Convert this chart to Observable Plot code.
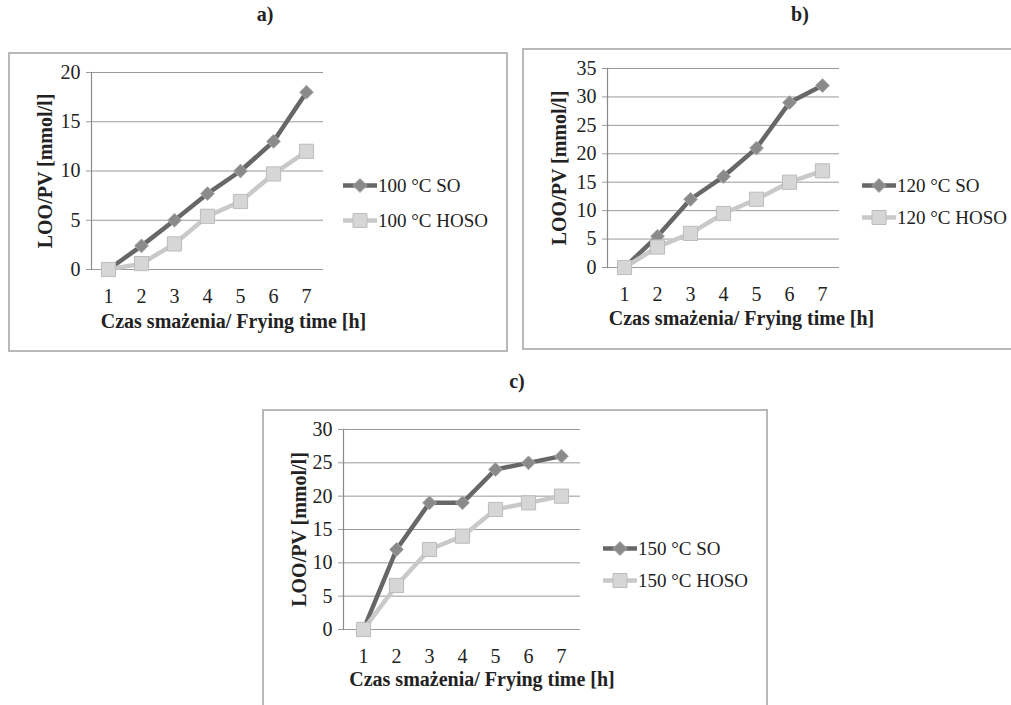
<!DOCTYPE html>
<html>
<head>
<meta charset="utf-8">
<script src="https://cdn.jsdelivr.net/npm/d3@7"></script>
<script src="https://cdn.jsdelivr.net/npm/@observablehq/plot@0.6"></script>
<style>
  html, body { margin: 0; padding: 0; background: #fff; }
  #page { position: relative; width: 1011px; height: 705px; overflow: hidden; font-family: "Liberation Serif", "Times New Roman", serif; color: #222; }
  .ptitle { position: absolute; font-weight: bold; font-size: 20px; transform: translateX(-50%); }
  .box { position: absolute; border: 2px solid #b8b8b8; box-sizing: border-box; background: #fff; }
  .box svg { position: absolute; left: 0; top: 0; overflow: visible; }
  .legend { position: absolute; font-size: 19px; line-height: 1; }
  .legend .row { position: absolute; left: 0; display: flex; align-items: center; white-space: nowrap; transform: translateY(-50%); }
  .legend svg { position: static; margin-right: 1px; }
</style>
</head>
<body>
<div id="page"></div>
<script>
// ---- data ----
const hours = [1, 2, 3, 4, 5, 6, 7];
const so100   = [0, 2.4, 5, 7.7, 10, 13, 18];
const hoso100 = [0, 0.6, 2.6, 5.4, 6.9, 9.7, 12];
const so120   = [0, 5.5, 12, 16, 21, 29, 32];
const hoso120 = [0, 3.6, 6, 9.5, 12, 15, 17];
const so150   = [0, 12, 19, 19, 24, 25, 26];
const hoso150 = [0, 6.6, 12, 14, 18, 19, 20];
const ticks100 = [0, 5, 10, 15, 20];
const ticks120 = [0, 5, 10, 15, 20, 25, 30, 35];
const ticks150 = [0, 5, 10, 15, 20, 25, 30];
const seriesNames100 = ["100 °C SO", "100 °C HOSO"];
const seriesNames120 = ["120 °C SO", "120 °C HOSO"];
const seriesNames150 = ["150 °C SO", "150 °C HOSO"];
const panelLabels = ["a)", "b)", "c)"];
const xTitle = "Czas smażenia/ Frying time [h]";
const yTitle = "LOO/PV [mmol/l]";

const SO_LINE = "#676767", SO_FILL = "#8a8a8a", SO_EDGE = "#a8a8a8";
const HO_LINE = "#c9c9c9", HO_FILL = "#d6d6d6", HO_EDGE = "#bcbcbc";
const GRID = "#9a9a9a";

const page = document.getElementById("page");

function addTitle(text, cx, top) {
  const d = document.createElement("div");
  d.className = "ptitle";
  d.style.left = cx + "px";
  d.style.top = top + "px";
  d.textContent = text;
  page.appendChild(d);
}

function swatch(kind) {
  const ns = "http://www.w3.org/2000/svg";
  const s = document.createElementNS(ns, "svg");
  s.setAttribute("width", 34); s.setAttribute("height", 18);
  const l = document.createElementNS(ns, "line");
  l.setAttribute("x1", 0); l.setAttribute("x2", 34); l.setAttribute("y1", 9); l.setAttribute("y2", 9);
  l.setAttribute("stroke", kind === "so" ? SO_LINE : HO_LINE);
  l.setAttribute("stroke-width", 4.5);
  s.appendChild(l);
  const p = document.createElementNS(ns, "path");
  if (kind === "so") {
    p.setAttribute("d", "M17,2L24,9L17,16L10,9Z");
    p.setAttribute("fill", SO_FILL); p.setAttribute("stroke", SO_EDGE);
  } else {
    p.setAttribute("d", "M10,2H24V16H10Z");
    p.setAttribute("fill", HO_FILL); p.setAttribute("stroke", HO_EDGE);
  }
  s.appendChild(p);
  return s;
}

function panel(opts) {
  const box = document.createElement("div");
  box.className = "box";
  box.style.left = opts.left + "px";
  box.style.top = opts.top + "px";
  box.style.width = opts.w + "px";
  box.style.height = opts.h + "px";
  page.appendChild(box);

  const W = 340, H = 300;
  const so = hours.map((h, i) => ({h, v: opts.so[i]}));
  const ho = hours.map((h, i) => ({h, v: opts.ho[i]}));
  const chart = Plot.plot({
    width: W, height: H,
    marginLeft: opts.x0, marginRight: W - opts.x1,
    marginTop: opts.yTop, marginBottom: H - opts.yBot,
    style: {fontFamily: "'Liberation Serif', 'Times New Roman', serif", fontSize: "20px", color: "#222", background: "transparent", overflow: "visible"},
    x: {type: "point", domain: hours, padding: 0.5},
    y: {domain: [0, opts.ticks[opts.ticks.length - 1]]},
    marks: [
      Plot.gridY(opts.ticks, {stroke: GRID, strokeOpacity: 1, strokeWidth: 1}),
      Plot.axisY(opts.ticks, {tickSize: 5, tickPadding: 6, stroke: GRID, label: null, fontSize: 20}),
      Plot.axisX(hours, {tickSize: 0, tickPadding: 19, label: null, fontSize: 20}),
      Plot.frame({anchor: "left", stroke: "#8a8a8a", strokeWidth: 1.2}),
      Plot.line(so, {x: "h", y: "v", stroke: SO_LINE, strokeWidth: 4.5}),
      Plot.dot(so, {x: "h", y: "v", symbol: "diamond2", r: 6.2, fill: SO_FILL, stroke: SO_EDGE, strokeWidth: 1}),
      Plot.line(ho, {x: "h", y: "v", stroke: HO_LINE, strokeWidth: 4.5}),
      Plot.dot(ho, {x: "h", y: "v", symbol: "square", r: 8, fill: HO_FILL, stroke: HO_EDGE, strokeWidth: 1}),
      Plot.text([xTitle], {frameAnchor: "bottom", dx: opts.xtDx, dy: opts.xtDy, fontWeight: "bold", fontSize: 20, fill: "#222"}),
      Plot.text([yTitle], {frameAnchor: "left", textAnchor: "middle", rotate: -90, dx: 35 - opts.x0, fontWeight: "bold", fontSize: 20, fill: "#222"})
    ]
  });
  box.appendChild(chart);

  const lg = document.createElement("div");
  lg.className = "legend";
  lg.style.left = opts.lgX + "px";
  lg.style.top = "0px";
  [["so", opts.names[0], opts.lgY[0]], ["ho", opts.names[1], opts.lgY[1]]].forEach(([k, t, y]) => {
    const r = document.createElement("div");
    r.className = "row";
    r.style.top = y + "px";
    r.appendChild(swatch(k));
    const sp = document.createElement("span");
    sp.textContent = t;
    r.appendChild(sp);
    lg.appendChild(r);
  });
  box.appendChild(lg);
}

addTitle(panelLabels[0], 265, 3);
addTitle(panelLabels[1], 800, 3);
addTitle(panelLabels[2], 517, 370);

panel({left: 8, top: 52, w: 500, h: 300, so: so100, ho: hoso100, ticks: ticks100,
  x0: 81, x1: 313, yTop: 18, yBot: 215, xtDx: 26, xtDy: 58, names: seriesNames100, lgX: 333, lgY: [131, 166]});
panel({left: 522, top: 48, w: 500, h: 302, so: so120, ho: hoso120, ticks: ticks120,
  x0: 83, x1: 315, yTop: 18, yBot: 217, xtDx: 18, xtDy: 57, names: seriesNames120, lgX: 338, lgY: [135, 167]});
panel({left: 262, top: 409, w: 506, h: 310, so: so150, ho: hoso150, ticks: ticks150,
  x0: 79, x1: 316, yTop: 18, yBot: 218, xtDx: 20, xtDy: 56, names: seriesNames150, lgX: 339, lgY: [137, 169]});
</script>
</body>
</html>
